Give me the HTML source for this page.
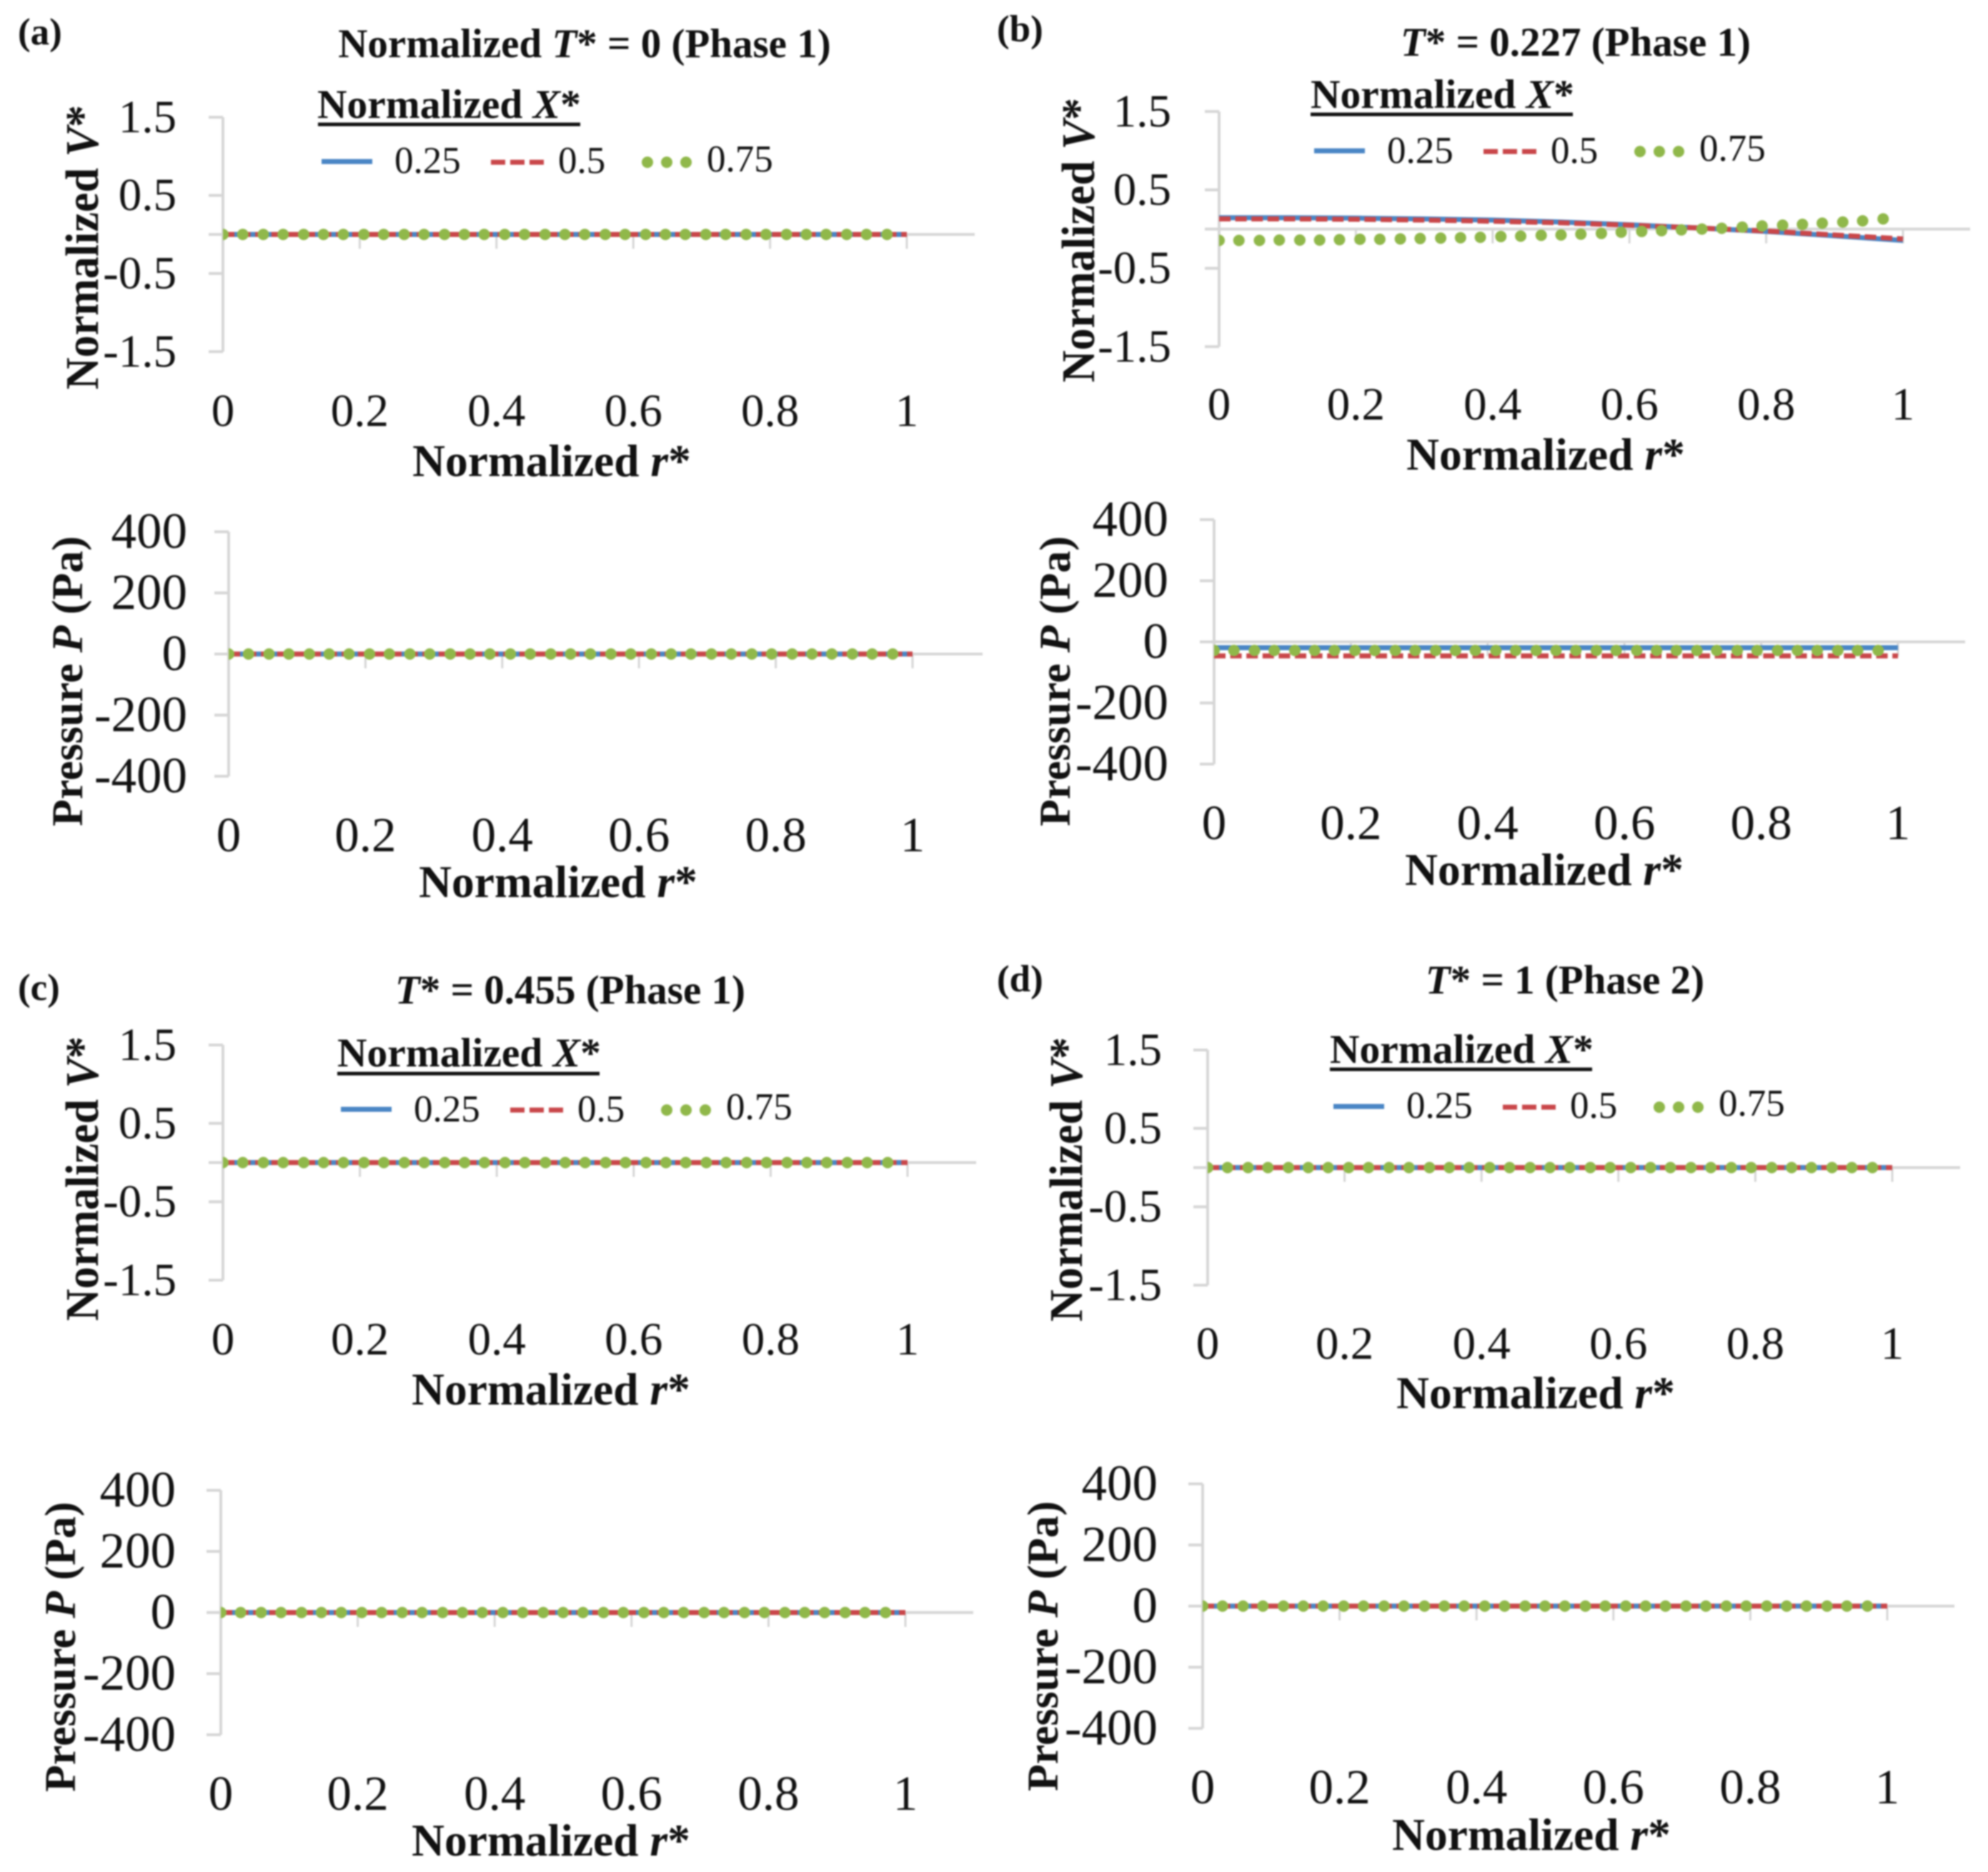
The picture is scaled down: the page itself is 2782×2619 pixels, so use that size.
<!DOCTYPE html>
<html lang="en">
<head>
<meta charset="utf-8">
<title>Normalized velocity and pressure profiles</title>
<style>
html,body{margin:0;padding:0;background:#fff;}
#figure{display:block;width:2782px;height:2619px;filter:blur(1.1px);font-family:"Liberation Serif",serif;fill:#111;}
.panel-label{font-size:53px;font-weight:bold;}
.title{font-size:57px;font-weight:bold;text-anchor:middle;}
.xtitle{font-size:63.5px;font-weight:bold;text-anchor:middle;}
.ytitle-v{font-size:66px;font-weight:bold;text-anchor:middle;}
.ytitle-p{font-size:61px;font-weight:bold;text-anchor:middle;}
.legend-title{font-size:57.5px;font-weight:bold;}
.legend-label{font-size:53px;}
i,.it{font-style:italic;}
</style>
</head>
<body>
<svg id="figure" xmlns="http://www.w3.org/2000/svg" width="2782" height="2619" viewBox="0 0 2782 2619">
  <rect x="0" y="0" width="2782" height="2619" fill="#fff"/>

  <text class="panel-label" x="25" y="62">(a)</text>
  <text class="panel-label" x="1395" y="58">(b)</text>
  <text class="panel-label" x="25" y="1399">(c)</text>
  <text class="panel-label" x="1395" y="1387">(d)</text>

  <text class="title" x="818" y="80">Normalized <tspan class="it">T</tspan>* = 0 (Phase 1)</text>
  <text class="title" x="2205" y="78"><tspan class="it">T</tspan>* = 0.227 (Phase 1)</text>
  <text class="title" x="798" y="1404"><tspan class="it">T</tspan>* = 0.455 (Phase 1)</text>
  <text class="title" x="2190" y="1390"><tspan class="it">T</tspan>* = 1 (Phase 2)</text>

  <text class="xtitle" x="772" y="666">Normalized <tspan class="it">r</tspan>*</text>
  <text class="xtitle" x="781" y="1255">Normalized <tspan class="it">r</tspan>*</text>
  <text class="xtitle" x="2163" y="657">Normalized <tspan class="it">r</tspan>*</text>
  <text class="xtitle" x="2161" y="1238">Normalized <tspan class="it">r</tspan>*</text>
  <text class="xtitle" x="771" y="1965">Normalized <tspan class="it">r</tspan>*</text>
  <text class="xtitle" x="771" y="2596">Normalized <tspan class="it">r</tspan>*</text>
  <text class="xtitle" x="2149" y="1970">Normalized <tspan class="it">r</tspan>*</text>
  <text class="xtitle" x="2143" y="2588">Normalized <tspan class="it">r</tspan>*</text>

  <text class="ytitle-v" transform="translate(137,346) rotate(-90)" textLength="398" lengthAdjust="spacingAndGlyphs">Normalized <tspan class="it">V</tspan>*</text>
  <text class="ytitle-v" transform="translate(1531,336) rotate(-90)" textLength="398" lengthAdjust="spacingAndGlyphs">Normalized <tspan class="it">V</tspan>*</text>
  <text class="ytitle-v" transform="translate(137,1649) rotate(-90)" textLength="398" lengthAdjust="spacingAndGlyphs">Normalized <tspan class="it">V</tspan>*</text>
  <text class="ytitle-v" transform="translate(1514,1650) rotate(-90)" textLength="398" lengthAdjust="spacingAndGlyphs">Normalized <tspan class="it">V</tspan>*</text>
  <text class="ytitle-p" transform="translate(115,953) rotate(-90)" textLength="406" lengthAdjust="spacingAndGlyphs">Pressure <tspan class="it">P</tspan> (Pa)</text>
  <text class="ytitle-p" transform="translate(1497,953) rotate(-90)" textLength="406" lengthAdjust="spacingAndGlyphs">Pressure <tspan class="it">P</tspan> (Pa)</text>
  <text class="ytitle-p" transform="translate(105,2304) rotate(-90)" textLength="406" lengthAdjust="spacingAndGlyphs">Pressure <tspan class="it">P</tspan> (Pa)</text>
  <text class="ytitle-p" transform="translate(1480,2303) rotate(-90)" textLength="406" lengthAdjust="spacingAndGlyphs">Pressure <tspan class="it">P</tspan> (Pa)</text>

  <g id="legend-a">
    <text class="legend-title" x="444" y="165">Normalized <tspan class="it">X</tspan>*</text>
    <text class="legend-label" x="552" y="242">0.25</text>
    <text class="legend-label" x="781" y="242">0.5</text>
    <text class="legend-label" x="989" y="240">0.75</text>
  </g>
  <g id="legend-b">
    <text class="legend-title" x="1834" y="151">Normalized <tspan class="it">X</tspan>*</text>
    <text class="legend-label" x="1941" y="228">0.25</text>
    <text class="legend-label" x="2170" y="228">0.5</text>
    <text class="legend-label" x="2378" y="225">0.75</text>
  </g>
  <g id="legend-c">
    <text class="legend-title" x="472" y="1492">Normalized <tspan class="it">X</tspan>*</text>
    <text class="legend-label" x="579" y="1569">0.25</text>
    <text class="legend-label" x="808" y="1569">0.5</text>
    <text class="legend-label" x="1016" y="1566">0.75</text>
  </g>
  <g id="legend-d">
    <text class="legend-title" x="1861" y="1487">Normalized <tspan class="it">X</tspan>*</text>
    <text class="legend-label" x="1968" y="1564">0.25</text>
    <text class="legend-label" x="2197" y="1564">0.5</text>
    <text class="legend-label" x="2405" y="1561">0.75</text>
  </g>
  <defs id="clip-defs"></defs>
  <g id="charts"></g>
</svg>

<script>
// x-axis categories and ticks
const xTickValues = [0, 0.2, 0.4, 0.6, 0.8, 1];
const xTickLabels = ["0", "0.2", "0.4", "0.6", "0.8", "1"];
const velocityTickValues = [1.5, 0.5, -0.5, -1.5];
const velocityTickLabels = ["1.5", "0.5", "-0.5", "-1.5"];
const pressureTickValues = [400, 200, 0, -200, -400];
const pressureTickLabels = ["400", "200", "0", "-200", "-400"];
const legendValues = ["0.25", "0.5", "0.75"];

// r* sample locations
const rLine = [0, 0.1, 0.2, 0.3, 0.4, 0.5, 0.6, 0.7, 0.8, 0.9, 1];
const rDots = [0, 0.029, 0.059, 0.088, 0.118, 0.147, 0.176, 0.206, 0.235, 0.265, 0.294, 0.324, 0.353, 0.382, 0.412, 0.441, 0.471, 0.5, 0.529, 0.559, 0.588, 0.618, 0.647, 0.676, 0.706, 0.735, 0.765, 0.794, 0.824, 0.853, 0.882, 0.912, 0.941, 0.971];

// Panel (a) T* = 0
const aVelocityX025 = [0, 0, 0, 0, 0, 0, 0, 0, 0, 0, 0];
const aVelocityX05 = [0, 0, 0, 0, 0, 0, 0, 0, 0, 0, 0];
const aVelocityX075 = [0, 0, 0, 0, 0, 0, 0, 0, 0, 0, 0, 0, 0, 0, 0, 0, 0, 0, 0, 0, 0, 0, 0, 0, 0, 0, 0, 0, 0, 0, 0, 0, 0, 0];
const aPressureX025 = [0, 0, 0, 0, 0, 0, 0, 0, 0, 0, 0];
const aPressureX05 = [0, 0, 0, 0, 0, 0, 0, 0, 0, 0, 0];
const aPressureX075 = [0, 0, 0, 0, 0, 0, 0, 0, 0, 0, 0, 0, 0, 0, 0, 0, 0, 0, 0, 0, 0, 0, 0, 0, 0, 0, 0, 0, 0, 0, 0, 0, 0, 0];

// Panel (b) T* = 0.227
const bVelocityX025 = [0.145, 0.145, 0.14, 0.13, 0.115, 0.09, 0.055, 0.015, -0.03, -0.085, -0.145];
const bVelocityX05 = [0.13, 0.13, 0.125, 0.115, 0.1, 0.08, 0.05, 0.015, -0.025, -0.075, -0.125];
const bVelocityX075 = [-0.145, -0.145, -0.145, -0.14, -0.14, -0.14, -0.135, -0.13, -0.13, -0.125, -0.12, -0.115, -0.11, -0.105, -0.095, -0.09, -0.08, -0.075, -0.065, -0.055, -0.04, -0.03, -0.02, -0.01, 0, 0.01, 0.025, 0.04, 0.05, 0.06, 0.075, 0.09, 0.105, 0.13];
const bPressureX025 = [-19, -19, -19, -19, -19, -19, -19, -19, -19, -19, -19];
const bPressureX05 = [-46, -46, -46, -46, -46, -46, -46, -46, -46, -46, -46];
const bPressureX075 = [-28, -28, -28, -28, -28, -28, -28, -28, -28, -28, -28, -28, -28, -28, -28, -28, -28, -28, -28, -28, -28, -28, -28, -28, -28, -28, -28, -28, -28, -28, -28, -28, -28, -28];

// Panel (c) T* = 0.455
const cVelocityX025 = [0, 0, 0, 0, 0, 0, 0, 0, 0, 0, 0];
const cVelocityX05 = [0, 0, 0, 0, 0, 0, 0, 0, 0, 0, 0];
const cVelocityX075 = [0, 0, 0, 0, 0, 0, 0, 0, 0, 0, 0, 0, 0, 0, 0, 0, 0, 0, 0, 0, 0, 0, 0, 0, 0, 0, 0, 0, 0, 0, 0, 0, 0, 0];
const cPressureX025 = [0, 0, 0, 0, 0, 0, 0, 0, 0, 0, 0];
const cPressureX05 = [0, 0, 0, 0, 0, 0, 0, 0, 0, 0, 0];
const cPressureX075 = [0, 0, 0, 0, 0, 0, 0, 0, 0, 0, 0, 0, 0, 0, 0, 0, 0, 0, 0, 0, 0, 0, 0, 0, 0, 0, 0, 0, 0, 0, 0, 0, 0, 0];

// Panel (d) T* = 1
const dVelocityX025 = [0, 0, 0, 0, 0, 0, 0, 0, 0, 0, 0];
const dVelocityX05 = [0, 0, 0, 0, 0, 0, 0, 0, 0, 0, 0];
const dVelocityX075 = [0, 0, 0, 0, 0, 0, 0, 0, 0, 0, 0, 0, 0, 0, 0, 0, 0, 0, 0, 0, 0, 0, 0, 0, 0, 0, 0, 0, 0, 0, 0, 0, 0, 0];
const dPressureX025 = [0, 0, 0, 0, 0, 0, 0, 0, 0, 0, 0];
const dPressureX05 = [0, 0, 0, 0, 0, 0, 0, 0, 0, 0, 0];
const dPressureX075 = [0, 0, 0, 0, 0, 0, 0, 0, 0, 0, 0, 0, 0, 0, 0, 0, 0, 0, 0, 0, 0, 0, 0, 0, 0, 0, 0, 0, 0, 0, 0, 0, 0, 0];

const NS = "http://www.w3.org/2000/svg";
const BLUE = "#4a86c5", RED = "#c9474a", GREEN = "#90b84a", AXIS = "#d6d6d6", INK = "#111";
let clipCount = 0;

function make(tag, attrs, parent) {
  const el = document.createElementNS(NS, tag);
  Object.keys(attrs).forEach(function (k) { el.setAttribute(k, attrs[k]); });
  parent.appendChild(el);
  return el;
}

function xScale(p, r) { return p.x0 + (p.x1 - p.x0) * r; }
function yScale(p, v) { return p.top + (p.max - v) / (p.max - p.min) * (p.bottom - p.top); }

function drawAxes(p, group, tickValues, tickLabels, fontX, fontY) {
  const yAxis = make("line", { x1: p.x0, x2: p.x0, y1: p.top, y2: p.bottom, stroke: AXIS, "stroke-width": 4 }, group);
  
  
  const zeroY = yScale(p, 0);
  const xAxis = make("line", { x1: p.x0 - 20, x2: p.end, y1: zeroY, y2: zeroY, stroke: AXIS, "stroke-width": 4 }, group);
  
  
  tickValues.forEach(function (v, i) {
    const y = yScale(p, v);
    const tick = make("line", { x1: p.x0 - 20, x2: p.x0, y1: y, y2: y, stroke: AXIS, "stroke-width": 4 }, group);
    
    
    const label = make("text", { x: p.x0 - p.gap, y: y + fontY * 0.32, "text-anchor": "end", "font-size": fontY, fill: INK }, group);
    
    
    label.textContent = tickLabels[i];
  });
  xTickValues.forEach(function (r, i) {
    const x = xScale(p, r);
    const tick = make("line", { x1: x, x2: x, y1: zeroY, y2: zeroY + 20, stroke: AXIS, "stroke-width": 3 }, group);
    
    
    const label = make("text", { x: x, y: p.bottom + p.xLabelDrop, "text-anchor": "middle", "font-size": fontX, fill: INK }, group);
    
    
    label.textContent = xTickLabels[i];
  });
}

function linePath(p, values) {
  return rLine.map(function (r, i) {
    return (i ? "L" : "M") + xScale(p, r).toFixed(2) + " " + yScale(p, values[i]).toFixed(2);
  }).join(" ");
}

function drawSeries(p, group, x025, x05, x075) {
  const blue = make("path", { d: linePath(p, x025), fill: "none", stroke: BLUE, "stroke-width": 7 }, group);
  
  
  const red = make("path", { d: linePath(p, x05), fill: "none", stroke: RED, "stroke-width": 7, "stroke-dasharray": "16 6.6" }, group);
  
  
  clipCount += 1;
  const clipId = "dot-clip-" + clipCount;
  const clip = make("clipPath", { id: clipId }, document.getElementById("clip-defs"));
  make("rect", { x: p.x0, y: p.top - 20, width: p.end - p.x0, height: p.bottom - p.top + 40 }, clip);
  const dots = make("g", { "clip-path": "url(#" + clipId + ")" }, group);
  
  
  rDots.forEach(function (r, i) {
    const dot = make("circle", { cx: xScale(p, r), cy: yScale(p, x075[i]), r: 8, fill: GREEN }, dots);
    
    
  });
}

function drawLegendKeys(id, left, y) {
  const g = document.getElementById(id);
  const rule = make("line", { x1: left, x2: left + 367, y1: y.rule, y2: y.rule, stroke: INK, "stroke-width": 5 }, g);
  
  
  const blueKey = make("line", { x1: left + 5, x2: left + 76, y1: y.key, y2: y.key, stroke: BLUE, "stroke-width": 7 }, g);
  
  
  const redKey = make("line", { x1: left + 242, x2: left + 316, y1: y.key + 1, y2: y.key + 1, stroke: RED, "stroke-width": 7, "stroke-dasharray": "20 7" }, g);
  
  
  [461, 488, 515].forEach(function (dx) {
    const dot = make("circle", { cx: left + dx, cy: y.key + 1, r: 8, fill: GREEN }, g);
    
    
  });
}

function drawPanel(name, p, kind, s1, s2, s3) {
  const root = document.getElementById("charts");
  const group = make("g", {}, root);
  
  
  if (kind === "velocity") {
    p.max = 1.5; p.min = -1.5;
    drawAxes(p, group, velocityTickValues, velocityTickLabels, 65, 65);
  } else {
    p.max = 400; p.min = -400;
    drawAxes(p, group, pressureTickValues, pressureTickLabels, 69, 71);
  }
  drawSeries(p, group, s1, s2, s3);
}

drawPanel("panel-a-velocity-chart", { x0: 312, x1: 1269, end: 1364, top: 164, bottom: 492, gap: 65, xLabelDrop: 104 }, "velocity", aVelocityX025, aVelocityX05, aVelocityX075);
drawPanel("panel-a-pressure-chart", { x0: 320, x1: 1277, end: 1375, top: 744, bottom: 1086, gap: 58, xLabelDrop: 105 }, "pressure", aPressureX025, aPressureX05, aPressureX075);
drawPanel("panel-b-velocity-chart", { x0: 1706, x1: 2663, end: 2757, top: 156, bottom: 485, gap: 67, xLabelDrop: 102 }, "velocity", bVelocityX025, bVelocityX05, bVelocityX075);
drawPanel("panel-b-pressure-chart", { x0: 1699, x1: 2656, end: 2750, top: 727, bottom: 1069, gap: 64, xLabelDrop: 105 }, "pressure", bPressureX025, bPressureX05, bPressureX075);
drawPanel("panel-c-velocity-chart", { x0: 312, x1: 1270, end: 1366, top: 1462, bottom: 1791, gap: 65, xLabelDrop: 104 }, "velocity", cVelocityX025, cVelocityX05, cVelocityX075);
drawPanel("panel-c-pressure-chart", { x0: 309, x1: 1267, end: 1362, top: 2085, bottom: 2427, gap: 63, xLabelDrop: 105 }, "pressure", cPressureX025, cPressureX05, cPressureX075);
drawPanel("panel-d-velocity-chart", { x0: 1690, x1: 2648, end: 2743, top: 1469, bottom: 1798, gap: 64, xLabelDrop: 103 }, "velocity", dVelocityX025, dVelocityX05, dVelocityX075);
drawPanel("panel-d-pressure-chart", { x0: 1683, x1: 2641, end: 2735, top: 2076, bottom: 2418, gap: 63, xLabelDrop: 105 }, "pressure", dPressureX025, dPressureX05, dPressureX075);

drawLegendKeys("legend-a", 445, { rule: 174, key: 226 });
drawLegendKeys("legend-b", 1834, { rule: 160, key: 211 });
drawLegendKeys("legend-c", 472, { rule: 1502, key: 1552 });
drawLegendKeys("legend-d", 1861, { rule: 1496, key: 1548 });
</script>
</body>
</html>
